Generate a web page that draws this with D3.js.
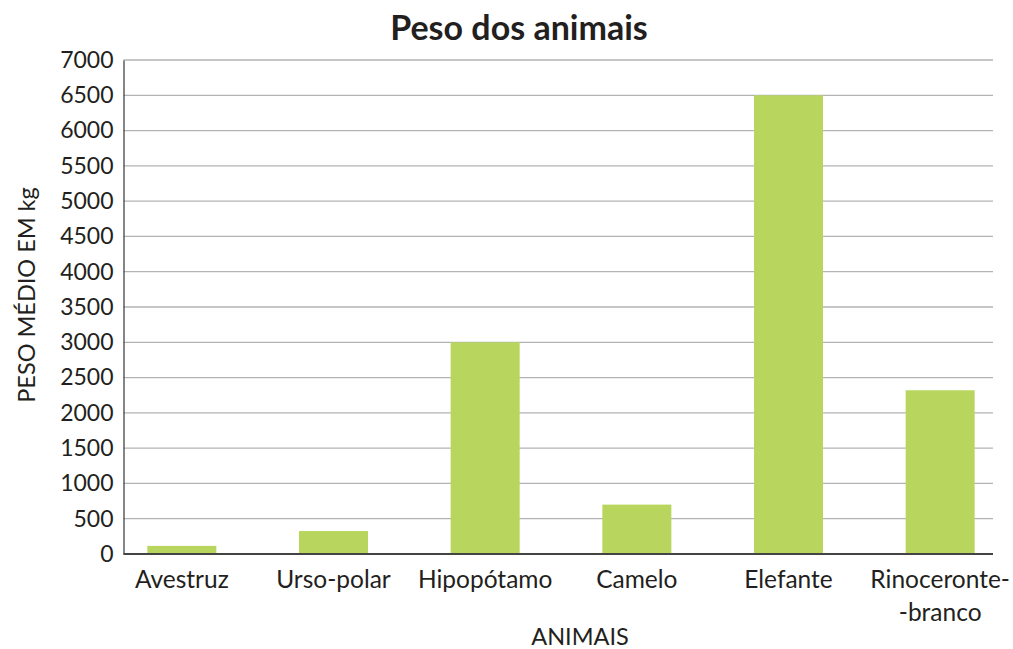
<!DOCTYPE html>
<html><head><meta charset="utf-8">
<script src="https://cdn.jsdelivr.net/npm/d3@7"></script>
<style>body{margin:0;background:#fff}svg{display:block}text{font-family:Lato,"Open Sans",sans-serif;fill:#231f20}</style>
</head><body><svg id="c" width="1013" height="649"></svg>
<script>
const categories = ["Avestruz","Urso-polar","Hipopótamo","Camelo","Elefante","Rinoceronte-\n-branco"];
const values = [115, 325, 3000, 700, 6500, 2320];
const yTicks = [0,500,1000,1500,2000,2500,3000,3500,4000,4500,5000,5500,6000,6500,7000];

const svg = d3.select("#c");
const L = 123.5, R = 993, T = 60, B = 554;
const y = d3.scaleLinear().domain([0,7000]).range([B,T]);
const x = d3.scaleBand().domain(categories).range([106, 1016]).paddingInner(0.545).paddingOuter(0.2725);

// grid
svg.append("g").selectAll("line").data(yTicks.filter(d=>d>0)).join("line")
  .attr("x1", L).attr("x2", R).attr("y1", d=>y(d)).attr("y2", d=>y(d))
  .attr("stroke", "#b3b3b3").attr("stroke-width", 1.3);

// bars
svg.append("g").selectAll("rect").data(values).join("rect")
  .attr("x", (d,i)=>x(categories[i])).attr("width", x.bandwidth())
  .attr("y", d=>y(d)).attr("height", d=>B - y(d)).attr("fill", "#b8d65e");

// y axis
const ya = d3.axisLeft(y).tickValues(yTicks).tickSize(0).tickPadding(10).tickFormat(d3.format("d"));
const gy = svg.append("g").attr("transform", `translate(${L},0)`).call(ya);
gy.select(".domain").attr("stroke", "#444").attr("stroke-width", 1.3);
gy.selectAll("text").attr("font-size", 23).attr("fill", "#231f20").attr("font-family", "Lato, sans-serif");

// x axis line
svg.append("line").attr("x1", L).attr("x2", R).attr("y1", B).attr("y2", B).attr("stroke", "#444").attr("stroke-width", 2);

// x labels
const xl = svg.append("g").selectAll("text").data(categories).join("text")
  .attr("text-anchor", "middle").attr("font-size", 24.5);
xl.each(function(d){
  const lines = d.split("\n");
  const t = d3.select(this);
  lines.forEach((ln, k) => {
    t.append("tspan").attr("x", x(d) + x.bandwidth()/2).attr("y", 588 + k*33).text(ln);
  });
});

// titles
svg.append("text").attr("x", 519).attr("y", 40).attr("text-anchor", "middle")
  .attr("font-size", 34).attr("font-weight", "bold").text("Peso dos animais");
svg.append("text").attr("x", 580).attr("y", 645).attr("text-anchor", "middle")
  .attr("font-size", 23.5).text("ANIMAIS");
svg.append("text").attr("transform", "translate(35,295) rotate(-90)").attr("text-anchor", "middle")
  .attr("font-size", 23.5).text("PESO MÉDIO EM kg");
</script></body></html>
